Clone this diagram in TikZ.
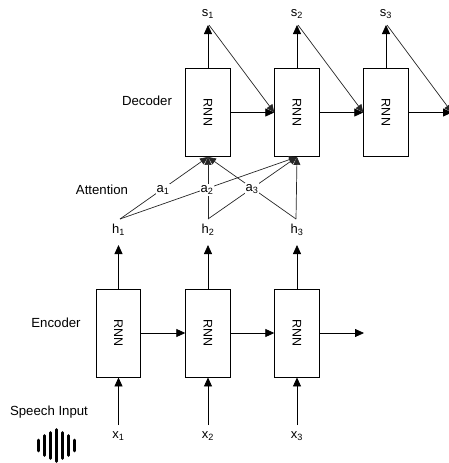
\documentclass[tikz,border=0pt]{standalone}
\usepackage{fontspec}
\setmainfont{Liberation Sans}
\usetikzlibrary{arrows.meta}
\tikzset{
  x=1pt,y=-1pt,
  rnn/.style={draw,line width=0.9pt,minimum width=44.5pt,minimum height=88pt,inner sep=0pt,anchor=center,font=\fontsize{12.5}{14}\selectfont},
  lab/.style={inner sep=1pt,font=\fontsize{13.2}{15}\selectfont},
  var/.style={inner sep=0pt,font=\fontsize{13}{15}\selectfont},
  weight/.style={fill=white,inner sep=1pt,font=\fontsize{13}{15}\selectfont},
  conn/.style={line width=0.8pt,-{Triangle[length=9pt,width=8pt]}},
  thin conn/.style={line width=0.7pt,-{Triangle[length=8pt,width=7pt]},draw=black!85},
  bar/.style={line width=2.6pt,line cap=round}
}
\begin{document}
\begin{tikzpicture}
\useasboundingbox (0,0) rectangle (449,463);
% encoder
\node[rnn] (e1) at (118.5,333) {\rotatebox{-90}{RNN}};
\node[rnn] (e2) at (208,333) {\rotatebox{-90}{RNN}};
\node[rnn] (e3) at (297,333) {\rotatebox{-90}{RNN}};
\coordinate (eout) at (364,333);
% decoder
\node[rnn] (d1) at (208,112.5) {\rotatebox{-90}{RNN}};
\node[rnn] (d2) at (297,112.5) {\rotatebox{-90}{RNN}};
\node[rnn] (d3) at (386,112.5) {\rotatebox{-90}{RNN}};
\coordinate (dout) at (452,112.5);
% inputs
\node[var] (x1) at (118.5,436) {x\textsubscript{1}};
\node[var] (x2) at (208,436) {x\textsubscript{2}};
\node[var] (x3) at (297,436) {x\textsubscript{3}};
% hidden
\node[var] (h1) at (118.5,230) {h\textsubscript{1}};
\node[var] (h2) at (208,230) {h\textsubscript{2}};
\node[var] (h3) at (297,230) {h\textsubscript{3}};
\coordinate (h1t) at (120,219);
\coordinate (h2t) at (208,219);
\coordinate (h3t) at (296,219);
% outputs
\node[var] (s1) at (208,14) {s\textsubscript{1}};
\node[var] (s2) at (297,14) {s\textsubscript{2}};
\node[var] (s3) at (386,14) {s\textsubscript{3}};
\coordinate (s1t) at (209,25);
\coordinate (s2t) at (298,25);
\coordinate (s3t) at (387,25);
% labels
\node[lab] (ldec) at (147,101) {Decoder};
\node[lab] (latt) at (102,190) {Attention};
\node[lab] (lenc) at (56,323) {Encoder};
\node[lab] (lsp) at (49,412) {Speech Input};
% vertical arrows
\draw[conn] (x1.north |- 0,425) -- (e1.south);
\draw[conn] (x2.north |- 0,425) -- (e2.south);
\draw[conn] (x3.north |- 0,425) -- (e3.south);
\draw[conn] (e1.north) -- (h1.north |- 0,245);
\draw[conn] (e2.north) -- (h2.north |- 0,245);
\draw[conn] (e3.north) -- (h3.north |- 0,245);
\draw[conn] (d1.north) -- (s1.south |- 0,25);
\draw[conn] (d2.north) -- (s2.south |- 0,25);
\draw[conn] (d3.north) -- (s3.south |- 0,25);
% horizontal arrows
\draw[conn] (e1.east) -- (e2.west);
\draw[conn] (e2.east) -- (e3.west);
\draw[conn] (e3.east) -- (eout);
\draw[conn] (d1.east) -- (d2.west);
\draw[conn] (d2.east) -- (d3.west);
\draw[conn] (d3.east) -- (dout);
% feedback
\draw[thin conn] (s1t) -- (d2.west);
\draw[thin conn] (s2t) -- (d3.west);
\draw[thin conn] (s3t) -- (dout);
% attention
\draw[thin conn] (h1t) -- (d1.south);
\draw[thin conn] (h1t) -- (d2.south);
\draw[thin conn] (h2t) -- (d1.south);
\draw[thin conn] (h2t) -- (d2.south);
\draw[thin conn] (h3t) -- (d1.south);
\draw[thin conn] (h3t) -- (d2.south);
\node[weight] (a1) at (163,190) {a\textsubscript{1}};
\node[weight] (a2) at (207,190) {a\textsubscript{2}};
\node[weight] (a3) at (252,189) {a\textsubscript{3}};
% waveform
\foreach \x/\h in {38.7/5.5,44.7/10,50.7/13,56.7/16,62.7/13,68.7/10,74.7/5.5}
  \draw[bar] (\x,445.5-\h) -- (\x,445.5+\h);
\end{tikzpicture}
\end{document}
